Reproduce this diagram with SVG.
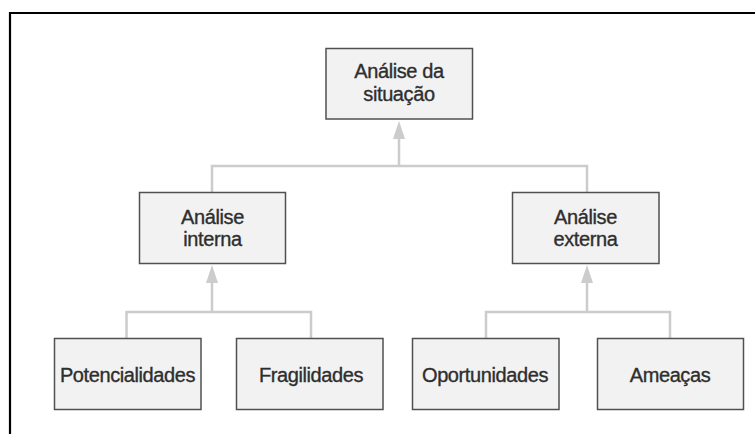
<svg xmlns="http://www.w3.org/2000/svg" width="755" height="434" viewBox="0 0 755 434">
<style>
.box{fill:#f2f2f2;stroke:#505050;stroke-width:1.5}
.lbl{font-family:"Liberation Sans",Arial,sans-serif;font-size:20px;letter-spacing:-0.4px;fill:#2e2e2e;stroke:#2e2e2e;stroke-width:0.35;text-anchor:middle}
.con{fill:none;stroke:#cccccc;stroke-width:2.5}
.head{fill:#cccccc}
</style>
<rect width="755" height="434" fill="#ffffff"/>
<path d="M10,434 V13 H755" fill="none" stroke="#000" stroke-width="2.2"/>
<g id="connectors">
<path class="con" d="M399,166 V136 M212,192 V166 H587 V192"/>
<polygon class="head" points="399,121 393,139 405,139"/>
<path class="con" d="M212,312 V280 M126.5,338 V312 H311 V338"/>
<polygon class="head" points="212,265 206,283 218,283"/>
<path class="con" d="M587,312 V280 M486,338 V312 H670 V338"/>
<polygon class="head" points="587,265 581,283 593,283"/>
</g>
<g id="n-situacao">
<rect class="box" x="326" y="48.5" width="146.5" height="70.5"/>
<text class="lbl" x="399" y="78">Análise da</text>
<text class="lbl" x="399" y="101">situação</text>
</g>
<g id="n-interna">
<rect class="box" x="139.5" y="192.5" width="146" height="71"/>
<text class="lbl" x="212.5" y="224">Análise</text>
<text class="lbl" x="212.5" y="246">interna</text>
</g>
<g id="n-externa">
<rect class="box" x="512.5" y="192.5" width="146.5" height="71"/>
<text class="lbl" x="585.5" y="224">Análise</text>
<text class="lbl" x="585.5" y="246">externa</text>
</g>
<g id="n-potencialidades">
<rect class="box" x="54.5" y="338.5" width="146.5" height="71"/>
<text class="lbl" x="127.5" y="381.5">Potencialidades</text>
</g>
<g id="n-fragilidades">
<rect class="box" x="236.5" y="338.5" width="146.5" height="71"/>
<text class="lbl" x="311" y="381.5">Fragilidades</text>
</g>
<g id="n-oportunidades">
<rect class="box" x="412.5" y="338.5" width="146.5" height="71"/>
<text class="lbl" x="485" y="381.5">Oportunidades</text>
</g>
<g id="n-ameacas">
<rect class="box" x="597.5" y="338.5" width="146" height="71"/>
<text class="lbl" x="670" y="381.5">Ameaças</text>
</g>
</svg>
